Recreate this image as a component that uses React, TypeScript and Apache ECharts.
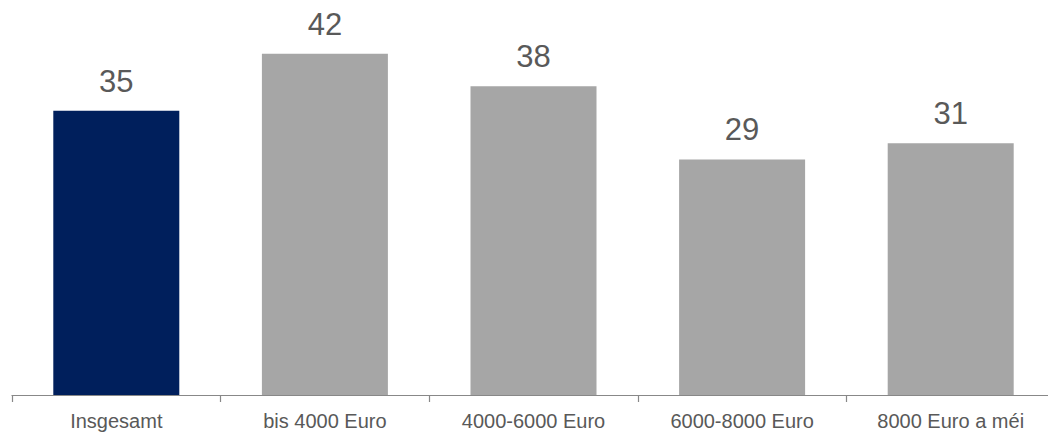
import React, { useEffect, useRef } from "react";
import * as echarts from "echarts";

const categories = ["Insgesamt", "bis 4000 Euro", "4000-6000 Euro", "6000-8000 Euro", "8000 Euro a méi"];
const values = [35, 42, 38, 29, 31];
const barColors = ["#001F5C", "#A6A6A6", "#A6A6A6", "#A6A6A6", "#A6A6A6"];

const FONT = "'Liberation Sans', Arial, sans-serif";

export default function App() {
  const ref = useRef<HTMLDivElement>(null);
  useEffect(() => {
    if (!ref.current) return;
    const chart = echarts.init(ref.current, undefined, { renderer: "svg" });
    chart.setOption({
      animation: false,
      backgroundColor: "#ffffff",
      grid: { left: 12, right: 0, top: 5, bottom: 40, containLabel: false },
      xAxis: {
        type: "category",
        data: categories,
        axisLine: { show: true, lineStyle: { color: "#888888", width: 1.2 } },
        axisTick: { show: true, length: 7, lineStyle: { color: "#888888", width: 1.2 } },
        axisLabel: { color: "#595959", fontSize: 20, fontFamily: FONT, margin: 16 },
      },
      yAxis: {
        type: "value",
        min: 0,
        max: 48,
        show: false,
        splitLine: { show: false },
      },
      series: [
        {
          type: "bar",
          barWidth: 126,
          data: values.map((v, i) => ({ value: v, itemStyle: { color: barColors[i] } })),
          label: {
            show: true,
            position: "top",
            distance: 14,
            color: "#595959",
            fontSize: 31,
            fontFamily: FONT,
          },
        },
      ],
    });
    return () => chart.dispose();
  }, []);
  return (
    <div
      style={{ position: "absolute", left: 0, top: 0, width: 1048, height: 435, overflow: "hidden" }}
    >
      <div ref={ref} style={{ width: 1054.5, height: 435 }} />
    </div>
  );
}
